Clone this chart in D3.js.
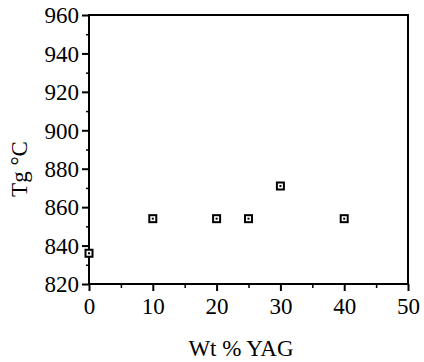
<!DOCTYPE html>
<html><head><meta charset="utf-8">
<script src="https://cdn.jsdelivr.net/npm/d3@7"></script>
<style>body{margin:0;background:#fff}svg{display:block}</style>
</head><body><svg width="424" height="362"></svg>
<script>
const wtYAG = [0, 10, 20, 25, 30, 40];
const tgC = [836, 854, 854, 854, 871, 854];
const xTicks = [0, 10, 20, 30, 40, 50];
const yTicks = [820, 840, 860, 880, 900, 920, 940, 960];

const FONT = "Liberation Serif, DejaVu Serif, serif";
const svg = d3.select("svg");
const L = 89, R = 408, T = 15, B = 284;
const x = d3.scaleLinear().domain([0, 50]).range([L, R]);
const y = d3.scaleLinear().domain([820, 960]).range([B, T]);

svg.append("rect").attr("x", L).attr("y", T).attr("width", R - L).attr("height", B - T)
  .attr("fill", "none").attr("stroke", "#000").attr("stroke-width", 2);

const ya = svg.append("g").attr("transform", `translate(${L},0)`)
  .call(d3.axisLeft(y).tickValues(yTicks).tickSize(7).tickPadding(3).tickFormat(d3.format("d")));
ya.attr("font-family", FONT);
ya.select(".domain").remove();
ya.selectAll("line").attr("stroke", "#000").attr("stroke-width", 2);
ya.selectAll("text").attr("font-family", FONT).attr("font-size", 23).attr("fill", "#000").attr("dy", "0.34em");
svg.append("g").attr("transform", `translate(${L},0)`)
  .call(d3.axisLeft(y).tickValues(d3.range(830, 960, 20)).tickSize(3).tickFormat(""))
  .call(g => { g.select(".domain").remove(); g.selectAll("line").attr("stroke", "#000").attr("stroke-width", 1.5); });

const xa = svg.append("g").attr("transform", `translate(0,${B})`)
  .call(d3.axisBottom(x).tickValues(xTicks).tickSize(7).tickPadding(6).tickFormat(d3.format("d")));
xa.attr("font-family", FONT);
xa.select(".domain").remove();
xa.selectAll("line").attr("stroke", "#000").attr("stroke-width", 2);
xa.selectAll("text").attr("font-family", FONT).attr("font-size", 23).attr("fill", "#000").attr("dy", "0.75em");
svg.append("g").attr("transform", `translate(0,${B})`)
  .call(d3.axisBottom(x).tickValues(d3.range(5, 50, 10)).tickSize(4).tickFormat(""))
  .call(g => { g.select(".domain").remove(); g.selectAll("line").attr("stroke", "#000").attr("stroke-width", 1.5); });

svg.append("text").attr("x", 241).attr("y", 356).attr("text-anchor", "middle")
  .attr("font-family", FONT).attr("font-size", 23).attr("fill", "#000").text("Wt % YAG");
svg.append("text").attr("transform", "translate(27,169) rotate(-90)").attr("text-anchor", "middle")
  .attr("font-family", FONT).attr("font-size", 23).attr("fill", "#000").text("Tg °C");

const pts = svg.append("g").selectAll("g").data(wtYAG.map((v, i) => [v, tgC[i]])).join("g")
  .attr("transform", d => `translate(${x(d[0])},${y(d[1])})`);
pts.append("rect").attr("x", -3.5).attr("y", -3.5).attr("width", 7).attr("height", 7)
  .attr("fill", "#fff").attr("stroke", "#000").attr("stroke-width", 2);
pts.append("rect").attr("x", -1).attr("y", -1).attr("width", 2).attr("height", 2).attr("fill", "#000");
</script></body></html>
